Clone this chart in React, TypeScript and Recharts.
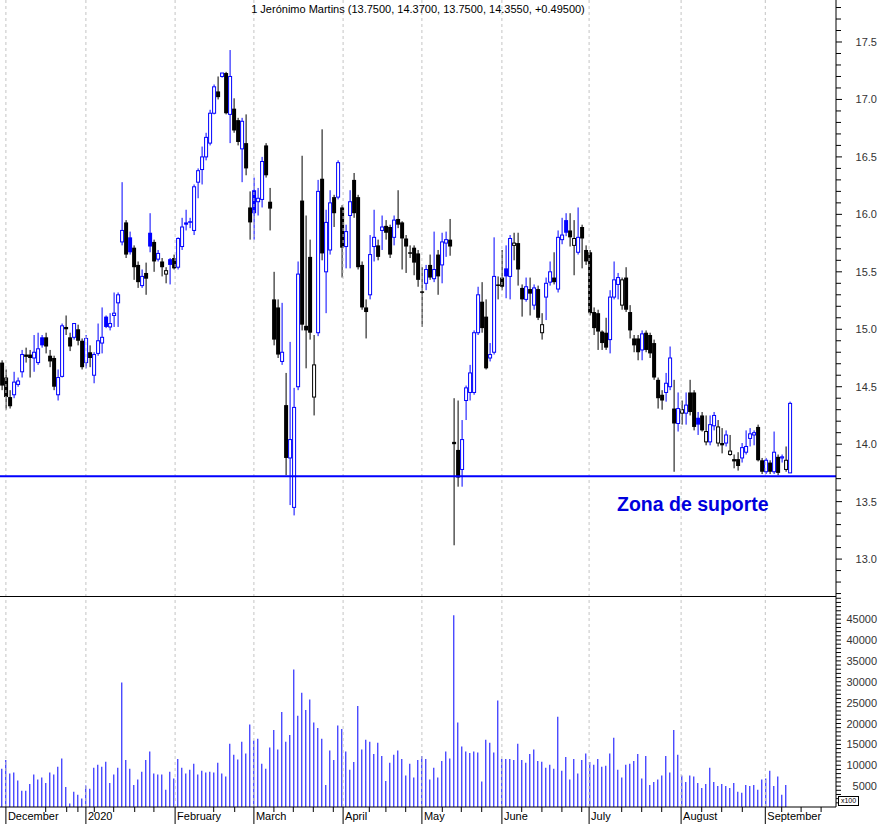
import React from 'react';
import { ComposedChart, Bar, XAxis, YAxis, ReferenceLine } from 'recharts';

// daily candles, Nov 29 2019 -> Sep 4 2020
const OPEN = [
  14.71, 14.58, 14.41, 14.43, 14.52, 14.63, 14.78, 14.78, 14.75, 14.71,
  14.93, 14.93, 14.77, 14.75, 14.43, 14.59, 15.02, 14.93, 14.93, 15.00,
  14.90, 14.71, 14.80, 14.60, 14.79, 14.88, 15.11, 15.02, 15.12, 15.23,
  15.76, 15.93, 15.80, 15.71, 15.56, 15.38, 15.49, 15.84, 15.76, 15.61,
  15.59, 15.48, 15.61, 15.62, 15.54, 15.72, 15.93, 15.94, 15.86, 16.28,
  16.39, 16.50, 16.62, 16.88, 17.07, 17.20, 17.23, 16.87, 16.92, 16.82,
  16.57, 16.62, 16.06, 16.21, 16.11, 16.13, 16.60, 16.11, 15.26, 15.19,
  14.72, 14.34, 13.88, 13.45, 14.50, 16.12, 15.03, 15.63, 14.41, 14.97,
  16.31, 15.50, 15.69, 16.15, 16.15, 16.06, 15.72, 15.99, 16.30, 16.15,
  15.56, 15.19, 15.30, 15.72, 15.73, 15.86, 15.90, 15.89, 15.80, 15.96,
  15.93, 15.79, 15.67, 15.71, 15.66, 15.33, 15.40, 15.56, 15.44, 15.65,
  15.56, 15.75, 15.78, 14.02, 13.95, 13.78, 14.38, 14.45, 14.45, 14.97,
  15.24, 15.11, 14.75, 14.80, 15.39, 15.45, 15.53, 15.46, 15.73, 15.75,
  15.36, 15.26, 15.35, 15.21, 15.35, 14.97, 15.28, 15.41, 15.45, 15.35,
  15.78, 15.95, 15.86, 15.73, 15.67, 15.89, 15.69, 15.67, 15.15, 15.14,
  14.98, 14.97, 14.91, 15.28, 15.39, 15.21, 15.45, 15.15, 14.92, 14.92,
  14.82, 14.97, 14.95, 14.88, 14.56, 14.43, 14.45, 14.50, 14.31, 14.18,
  14.27, 14.27, 14.45, 14.45, 14.23, 14.25, 14.02, 14.02, 14.16, 14.01,
  14.01, 14.01, 13.91, 13.87, 13.87, 13.88, 13.93, 14.05, 14.08, 14.15,
  13.86, 13.76, 13.84, 13.76, 13.89, 13.88, 13.78, 13.75,
];
const HIGH = [
  14.73, 14.65, 14.47, 14.63, 14.58, 14.82, 14.84, 14.82, 14.95, 14.97,
  14.95, 14.97, 14.82, 14.77, 14.65, 15.05, 15.12, 14.97, 15.05, 15.04,
  14.92, 14.95, 14.86, 14.80, 15.05, 15.19, 15.12, 15.14, 15.32, 15.32,
  16.28, 15.95, 15.85, 15.73, 15.59, 15.52, 15.58, 16.01, 15.78, 15.69,
  15.62, 15.54, 15.62, 15.65, 15.80, 15.97, 16.04, 15.97, 16.26, 16.40,
  16.59, 16.71, 16.91, 17.13, 17.20, 17.23, 17.24, 17.43, 17.01, 16.84,
  16.84, 16.87, 16.20, 16.32, 16.23, 16.50, 16.62, 16.23, 15.50, 15.26,
  15.23, 14.62, 14.89, 14.49, 15.59, 16.51, 15.99, 15.78, 14.95, 16.30,
  16.74, 16.04, 16.21, 16.17, 16.47, 16.08, 15.91, 16.21, 16.36, 16.17,
  15.59, 15.26, 15.82, 16.04, 15.78, 15.99, 15.95, 15.91, 15.99, 16.21,
  15.94, 15.82, 15.73, 15.73, 15.69, 15.54, 15.56, 15.65, 15.85, 15.69,
  15.84, 15.85, 15.96, 14.40, 14.38, 14.21, 14.51, 14.69, 14.99, 15.37,
  15.41, 15.26, 14.88, 15.80, 15.46, 15.69, 15.73, 15.82, 15.84, 15.84,
  15.39, 15.45, 15.45, 15.39, 15.38, 15.14, 15.45, 15.59, 15.67, 15.86,
  15.97, 16.01, 16.01, 15.95, 16.06, 15.91, 15.73, 15.69, 15.19, 15.17,
  14.99, 15.10, 15.34, 15.59, 15.49, 15.45, 15.54, 15.21, 14.95, 14.95,
  14.99, 14.99, 14.97, 14.91, 14.58, 14.47, 14.62, 14.85, 14.56, 14.45,
  14.38, 14.45, 14.56, 14.47, 14.28, 14.28, 14.25, 14.25, 14.28, 14.21,
  14.14, 14.12, 14.08, 13.91, 13.93, 14.01, 14.12, 14.14, 14.12, 14.17,
  13.88, 13.88, 13.86, 14.11, 13.91, 13.91, 13.98, 14.37,
];
const LOW = [
  14.47, 14.30, 14.31, 14.40, 14.50, 14.58, 14.71, 14.58, 14.63, 14.69,
  14.84, 14.79, 14.67, 14.47, 14.38, 14.58, 14.95, 14.81, 14.91, 14.86,
  14.65, 14.66, 14.67, 14.53, 14.77, 14.79, 15.01, 14.99, 15.02, 15.02,
  15.73, 15.62, 15.65, 15.43, 15.36, 15.36, 15.30, 15.67, 15.50, 15.59,
  15.46, 15.40, 15.39, 15.52, 15.52, 15.69, 15.86, 15.88, 15.82, 16.14,
  16.26, 16.47, 16.60, 16.87, 17.00, 17.19, 16.87, 16.62, 16.71, 16.60,
  16.28, 16.34, 15.78, 15.78, 15.99, 16.06, 16.32, 15.86, 14.86, 14.75,
  14.69, 13.73, 13.47, 13.38, 14.47, 14.99, 14.66, 14.91, 14.25, 14.94,
  15.60, 15.14, 15.65, 15.89, 16.13, 15.45, 15.53, 15.53, 15.97, 15.52,
  15.17, 14.92, 15.26, 15.59, 15.60, 15.69, 15.78, 15.62, 15.73, 15.88,
  15.52, 15.49, 15.62, 15.47, 15.37, 15.02, 15.34, 15.43, 15.41, 15.30,
  15.40, 15.63, 15.64, 13.12, 13.63, 13.63, 14.21, 14.38, 14.43, 14.95,
  14.97, 14.65, 14.72, 14.78, 15.26, 15.34, 15.27, 15.26, 15.60, 15.38,
  15.11, 15.24, 15.12, 15.17, 15.08, 14.91, 15.08, 15.38, 15.39, 15.32,
  15.74, 15.81, 15.72, 15.47, 15.65, 15.53, 15.56, 15.12, 14.95, 14.82,
  14.82, 14.82, 14.79, 15.26, 15.26, 15.17, 15.15, 14.92, 14.80, 14.73,
  14.73, 14.80, 14.75, 14.56, 14.31, 14.30, 14.37, 14.47, 13.76, 14.11,
  14.17, 14.17, 14.25, 14.12, 14.08, 14.11, 13.99, 13.99, 14.12, 13.98,
  13.92, 13.98, 13.90, 13.79, 13.77, 13.84, 13.91, 13.98, 13.99, 13.85,
  13.74, 13.74, 13.74, 13.74, 13.73, 13.84, 13.76, 13.75,
];
const CLOSE = [
  14.51, 14.41, 14.33, 14.54, 14.55, 14.78, 14.76, 14.75, 14.80, 14.83,
  14.86, 14.85, 14.72, 14.50, 14.58, 15.03, 15.00, 14.85, 15.05, 14.90,
  14.67, 14.92, 14.75, 14.78, 14.90, 14.93, 15.02, 15.05, 15.14, 15.30,
  15.86, 15.65, 15.67, 15.54, 15.41, 15.46, 15.44, 15.72, 15.59, 15.66,
  15.54, 15.51, 15.56, 15.53, 15.79, 15.89, 15.91, 15.93, 16.24, 16.38,
  16.50, 16.67, 16.88, 17.11, 17.02, 17.23, 16.88, 17.20, 16.73, 16.63,
  16.81, 16.40, 15.93, 16.01, 16.14, 16.46, 16.34, 16.05, 14.91, 14.78,
  14.80, 13.88, 14.04, 14.32, 15.48, 15.04, 14.99, 14.97, 14.69, 16.20,
  15.66, 15.93, 16.10, 16.01, 16.45, 15.71, 15.85, 16.11, 16.01, 15.54,
  15.19, 15.15, 15.65, 15.80, 15.63, 15.89, 15.84, 15.65, 15.95, 15.91,
  15.79, 15.72, 15.66, 15.58, 15.43, 15.32, 15.52, 15.45, 15.52, 15.46,
  15.76, 15.78, 15.72, 14.00, 13.71, 14.04, 14.49, 14.62, 14.97, 15.30,
  15.01, 14.66, 14.78, 15.46, 15.38, 15.37, 15.46, 15.79, 15.75, 15.52,
  15.26, 15.37, 15.31, 15.36, 15.10, 15.04, 15.40, 15.50, 15.41, 15.80,
  15.82, 15.84, 15.80, 15.79, 15.80, 15.79, 15.59, 15.14, 15.01, 14.98,
  14.88, 14.84, 15.28, 15.43, 15.45, 15.43, 15.17, 14.99, 14.86, 14.80,
  14.96, 14.82, 14.79, 14.58, 14.40, 14.38, 14.53, 14.75, 14.18, 14.31,
  14.30, 14.34, 14.28, 14.15, 14.17, 14.12, 14.11, 14.17, 14.25, 14.15,
  13.99, 14.08, 13.94, 13.85, 13.81, 13.97, 13.98, 14.09, 14.10, 13.86,
  13.76, 13.86, 13.76, 13.93, 13.75, 13.89, 13.86, 14.355,
];
// volume, in hundreds of shares (last session has no bar yet)
const VOLUME = [
  9170, 11230, 8050, 8290, 6370, 3900, 3900, 5490, 7810, 6610,
  7090, 5730, 8290, 7810, 9650, 11640, 4770, 860, 3660, 2940,
  2060, 5170, 4380, 9410, 10130, 9650, 10850, 5730, 7810, 9410,
  29840, 11230, 9170, 5250, 6610, 8440, 11230, 13310, 8050, 7810,
  7810, 4140, 8440, 6850, 11470, 9410, 8050, 8930, 10370, 7810,
  8690, 8290, 8440, 8290, 10610, 8050, 7330, 15160, 12530, 11390,
  15640, 12840, 19780, 15950, 16360, 10370, 9170, 14280, 18420, 13800,
  22730, 15640, 17230, 32960, 21860, 27380, 23210, 25770, 20260, 18900,
  16360, 5250, 13560, 11230, 19540, 18660, 13310, 8930, 10760, 24170,
  13800, 16120, 15640, 12670, 15400, 12190, 6200, 10610, 12530, 13560,
  11470, 7570, 10370, 7090, 11230, 12190, 11470, 6610, 9410, 7090,
  11000, 13310, 11640, 45900, 20260, 14520, 13310, 12910, 13310, 13070,
  6130, 16120, 15400, 13070, 25530, 11470, 11470, 11470, 11230, 15160,
  11230, 10610, 12670, 13800, 11000, 10850, 9410, 10130, 9170, 21630,
  8690, 11950, 6610, 11470, 8050, 11230, 12840, 10760, 10130, 11470,
  9650, 9890, 12840, 16600, 8930, 7090, 10130, 10370, 11000, 12670,
  6850, 12190, 5250, 5970, 6610, 7570, 12190, 8290, 18420, 12530,
  7570, 5970, 7570, 7330, 5730, 4540, 5490, 9410, 5970, 5010,
  5490, 5010, 4540, 5730, 3660, 3420, 5250, 5010, 5250, 4140,
  6610, 6850, 8690, 5010, 7330, 2940, 5250, 0,
];

const MONTH_TICKS = [0.9, 20.9, 43.2, 62.9, 85.2, 104.9, 124.9, 146.7, 169.7, 190.75];
const MONTH_LABELS = ['December', '2020', 'February', 'March', 'April', 'May', 'June', 'July', 'August', 'September'];
const WEEK_TICKS = [
  10.85, 16.1, 18.9, 23, 27.85, 33.1, 37.9, 52.85, 58.1, 67.9, 72.75, 77.75, 82.75,
  91.75, 95.9, 100.85, 110, 114.75, 119.85, 129.85, 134.9, 139.9, 144.85, 154.85,
  159.85, 164.85, 174.85, 179.85, 185, 194.85, 199.7, 204.7,
];
const SUPPORT = 13.72;
const TITLE = '1 Jerónimo Martins (13.7500, 14.3700, 13.7500, 14.3550, +0.49500)';

const X_DOMAIN = [-0.575, 208.425];
const PRICE_DOMAIN = [12.67, 17.8655];
const VOL_DOMAIN = [0, 50300];
const PRICE_TICKS = Array.from({ length: 52 }, (_, k) => Math.round((12.7 + k * 0.1) * 10) / 10);
const VOL_TICKS = Array.from({ length: 50 }, (_, k) => (k + 1) * 1000);

const FONT = '"Liberation Sans", Arial, sans-serif';
const BLUE = '#0000ff';

const candles = OPEN.map((open, i) => ({
  i,
  open,
  close: CLOSE[i],
  high: HIGH[i],
  low: LOW[i],
  range: [LOW[i], HIGH[i]],
  rise: i === 0 ? CLOSE[i] >= open : CLOSE[i] > CLOSE[i - 1],
}));
const volumes = VOLUME.map((vol, i) => ({ i, vol }));

const Candle = (props: any) => {
  const { x, y, width, height, payload } = props;
  const { open, close, high, low, rise } = payload;
  const cx = x + width / 2;
  const span = high - low || 1;
  const yOf = (v: number) => y + ((high - v) / span) * height;
  const color = rise ? BLUE : '#000';
  const top = yOf(Math.max(open, close));
  const bot = yOf(Math.min(open, close));
  const hollow = close >= open;
  return (
    <g>
      <line x1={cx} x2={cx} y1={y} y2={y + height} stroke={color} strokeWidth={1} />
      {hollow ? (
        <rect x={cx - 1.5} y={top} width={3} height={Math.max(bot - top, 1)} fill="#fff" stroke={color} strokeWidth={1} />
      ) : (
        <rect x={cx - 2} y={top} width={4} height={Math.max(bot - top, 1.5)} fill={color} />
      )}
    </g>
  );
};

const PriceTick = (props: any) => {
  const { x, y, payload } = props;
  const major = Math.abs(payload.value * 2 - Math.round(payload.value * 2)) < 0.001;
  return (
    <g>
      <line x1={x} x2={x + (major ? 6 : 5)} y1={y} y2={y} stroke="#000" />
      {major && (
        <text x={x + 41} y={y + 4} textAnchor="end" fontSize={11} fill="#333" fontFamily={FONT}>
          {payload.value.toFixed(1)}
        </text>
      )}
    </g>
  );
};

const VolTick = (props: any) => {
  const { x, y, payload } = props;
  const major = payload.value % 5000 === 0;
  return (
    <g>
      <line x1={x} x2={x + 5} y1={y} y2={y} stroke="#000" />
      {major && payload.value <= 45000 && (
        <text x={x + 41} y={y + 4} textAnchor="end" fontSize={11} fill="#333" fontFamily={FONT}>
          {payload.value}
        </text>
      )}
    </g>
  );
};

const TimeTick = (props: any) => {
  const { x, y, payload } = props;
  const m = MONTH_TICKS.indexOf(payload.value);
  if (m < 0) return <line x1={x} x2={x} y1={y} y2={y + 5} stroke="#000" />;
  return (
    <g>
      <line x1={x} x2={x} y1={y} y2={y + 17} stroke="#000" />
      <text x={x + 2} y={y + 13} fontSize={11} fill="#000" fontFamily={FONT}>
        {MONTH_LABELS[m]}
      </text>
    </g>
  );
};

const monthGrid = MONTH_TICKS.map((m) => (
  <ReferenceLine key={m} x={m} stroke="#c4c4c4" strokeDasharray="3 3" />
));

export default function App() {
  return (
    <div style={{ position: 'absolute', left: 0, top: 0, width: 880, height: 824, background: '#fff', fontFamily: FONT }}>
      <ComposedChart width={880} height={597} data={candles} margin={{ top: 0, right: 0, bottom: 0, left: 0 }}>
        <XAxis dataKey="i" type="number" domain={X_DOMAIN} hide allowDataOverflow />
        <YAxis
          orientation="right"
          width={44}
          domain={PRICE_DOMAIN}
          ticks={PRICE_TICKS}
          interval={0}
          allowDataOverflow
          tickLine={false}
          tickSize={0}
          tickMargin={0}
          tick={<PriceTick />}
          axisLine={{ stroke: '#000' }}
        />
        {monthGrid}
        <ReferenceLine y={SUPPORT} stroke={BLUE} strokeWidth={2} />
        <Bar dataKey="range" barSize={4} shape={<Candle />} isAnimationActive={false} />
      </ComposedChart>

      <div style={{ position: 'absolute', left: 0, top: 596, width: 836, height: 1, background: '#000' }} />

      <div style={{ position: 'absolute', left: 0, top: 597 }}>
        <ComposedChart width={880} height={227} data={volumes} margin={{ top: 0, right: 0, bottom: 0, left: 0 }}>
          <XAxis
            dataKey="i"
            type="number"
            domain={X_DOMAIN}
            allowDataOverflow
            ticks={[...MONTH_TICKS, ...WEEK_TICKS]}
            interval={0}
            height={17}
            tickLine={false}
            tickSize={0}
            tickMargin={0}
            tick={<TimeTick />}
            axisLine={{ stroke: '#000' }}
          />
          <YAxis
            orientation="right"
            width={44}
            domain={VOL_DOMAIN}
            ticks={VOL_TICKS}
            interval={0}
            allowDataOverflow
            tickLine={false}
            tickSize={0}
            tickMargin={0}
            tick={<VolTick />}
            axisLine={{ stroke: '#000' }}
          />
          {monthGrid}
          <Bar dataKey="vol" barSize={1} fill={BLUE} isAnimationActive={false} />
        </ComposedChart>
      </div>

      <div style={{ position: 'absolute', left: 0, top: 3, width: 836, textAlign: 'center', fontSize: 11, lineHeight: '12px', color: '#000' }}>
        {TITLE}
      </div>
      <div style={{ position: 'absolute', left: 617, top: 492, fontSize: 19.5, fontWeight: 'bold', color: '#0000dd', lineHeight: '24px', whiteSpace: 'nowrap' }}>
        Zona de suporte
      </div>
      <div style={{ position: 'absolute', left: 838, top: 796, width: 19, height: 8, border: '1px solid #000', fontSize: 7, lineHeight: '8px', textAlign: 'center', background: '#fff' }}>
        x100
      </div>
    </div>
  );
}
